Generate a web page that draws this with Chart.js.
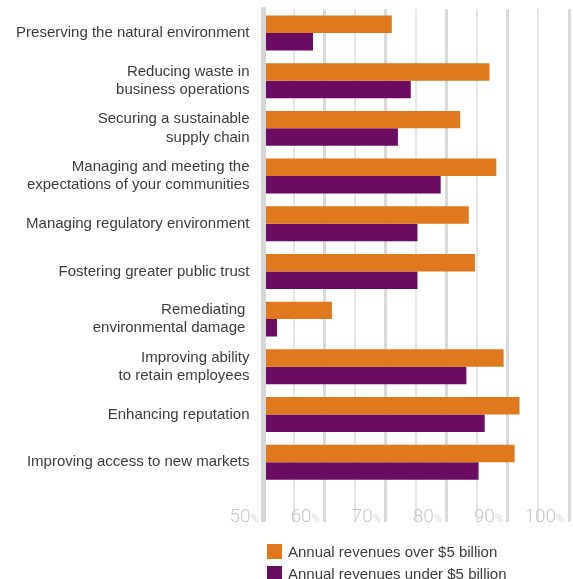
<!DOCTYPE html>
<html>
<head>
<meta charset="utf-8">
<script src="https://cdn.jsdelivr.net/npm/chart.js@4/dist/chart.umd.min.js"></script>
<style>
  html, body { margin: 0; padding: 0; background: #fff; }
  #wrap { position: relative; width: 573px; height: 579px; }
  #legend {
    position: absolute; left: 267px; top: 540px;
    font: 15px 'Liberation Sans', Arial, sans-serif; color: #3c3c3c;
  }
  .item { display: flex; align-items: center; height: 22px; }
  .sw { width: 15px; height: 15px; margin-right: 6px; flex: none; }
</style>
</head>
<body>
<div id="wrap">
  <canvas id="c" width="573" height="579"></canvas>
  <div id="legend"></div>
</div>
<script>
// Priorities by company size (% of respondents)
const categories = [
  ['Preserving the natural environment'],
  ['Reducing waste in', 'business operations'],
  ['Securing a sustainable', 'supply chain'],
  ['Managing and meeting the', 'expectations of your communities'],
  ['Managing regulatory environment'],
  ['Fostering greater public trust'],
  ['Remediating ', 'environmental damage '],
  ['Improving ability', 'to retain employees'],
  ['Enhancing reputation'],
  ['Improving access to new markets']
];
const seriesNames = ['Annual revenues over $5 billion', 'Annual revenues under $5 billion'];
const revenuesOver5bn  = [71, 87, 82.2, 88.1, 83.6, 84.6, 61.2, 89.3, 91.9, 91.1];
const revenuesUnder5bn = [58.1, 74.1, 72, 79, 75.2, 75.2, 52.2, 83.2, 86.2, 85.2];
const tickLabels = [50, 60, 70, 80, 90, 100];

const FONT = "'Liberation Sans', Arial, sans-serif";
const TICK_FONT = "Roboto, 'Liberation Sans', sans-serif";
const AXIS_MIN = 50, AXIS_MAX = 100;
const TICK_EXT = 36;

// Baseline bar + percentage tick labels with a small "%" sign
const axisDecor = {
  id: 'axisDecor',
  afterDatasetsDraw(chart) {
    const { ctx, chartArea, scales: { x } } = chart;
    const x0 = x.getPixelForValue(AXIS_MIN);
    ctx.save();
    ctx.fillStyle = '#d6d6d6';
    ctx.fillRect(x0 - 2.5, chartArea.top - 2, 5, chartArea.bottom + TICK_EXT - chartArea.top + 2);
    ctx.restore();
  },
  afterDraw(chart) {
    const { ctx, chartArea, scales: { x } } = chart;
    const base = chartArea.bottom + TICK_EXT - 0.5;
    ctx.save();
    ctx.fillStyle = '#c8c8c8';
    ctx.textBaseline = 'alphabetic';
    tickLabels.forEach(v => {
      const px = x.getPixelForValue(v);
      ctx.font = '300 19px ' + TICK_FONT;
      ctx.textAlign = 'right';
      ctx.fillText(String(v), px - 13, base);
      ctx.font = '300 11px ' + TICK_FONT;
      ctx.textAlign = 'left';
      ctx.fillText('%', px - 13, base);
    });
    ctx.restore();
  }
};

const chart = new Chart(document.getElementById('c'), {
  type: 'bar',
  data: {
    labels: categories,
    datasets: [
      { label: seriesNames[0], data: revenuesOver5bn, backgroundColor: '#e0791d', base: AXIS_MIN },
      { label: seriesNames[1], data: revenuesUnder5bn, backgroundColor: '#6b0b62', base: AXIS_MIN }
    ]
  },
  options: {
    indexAxis: 'y',
    responsive: false,
    animation: false,
    layout: { padding: { top: 7, right: 4, bottom: 0, left: 0 } },
    datasets: { bar: { categoryPercentage: 0.733, barPercentage: 1.0 } },
    plugins: { legend: { display: false }, tooltip: { enabled: false } },
    scales: {
      x: {
        min: AXIS_MIN, max: AXIS_MAX,
        ticks: { stepSize: 5, display: false },
        grid: {
          color: c => c.tick && c.tick.value === AXIS_MIN ? 'rgba(0,0,0,0)'
                    : (c.tick && c.tick.value % 10 === 0 ? '#d9d9d9' : '#e6e6e6'),
          lineWidth: c => c.tick && c.tick.value % 10 === 0 ? 3 : 2,
          tickLength: TICK_EXT
        },
        border: { display: false },
        afterFit: s => { s.height = 93; }
      },
      y: {
        // invisible tick marks keep the labels clear of the baseline
        grid: { display: true, drawOnChartArea: false, color: 'rgba(0,0,0,0)', tickLength: 14 },
        border: { display: false },
        ticks: {
          autoSkip: false,
          color: '#3c3c3c',
          padding: 0,
          font: { family: FONT, size: 15, lineHeight: 1.22 }
        },
        afterFit: s => { s.width = 263.5; }
      }
    }
  },
  plugins: [axisDecor]
});

// Legend built from the chart's datasets
const legend = document.getElementById('legend');
chart.data.datasets.forEach(ds => {
  const row = document.createElement('div');
  row.className = 'item';
  const sw = document.createElement('span');
  sw.className = 'sw';
  sw.style.background = ds.backgroundColor;
  const txt = document.createElement('span');
  txt.textContent = ds.label;
  row.appendChild(sw);
  row.appendChild(txt);
  legend.appendChild(row);
});
</script>
</body>
</html>
